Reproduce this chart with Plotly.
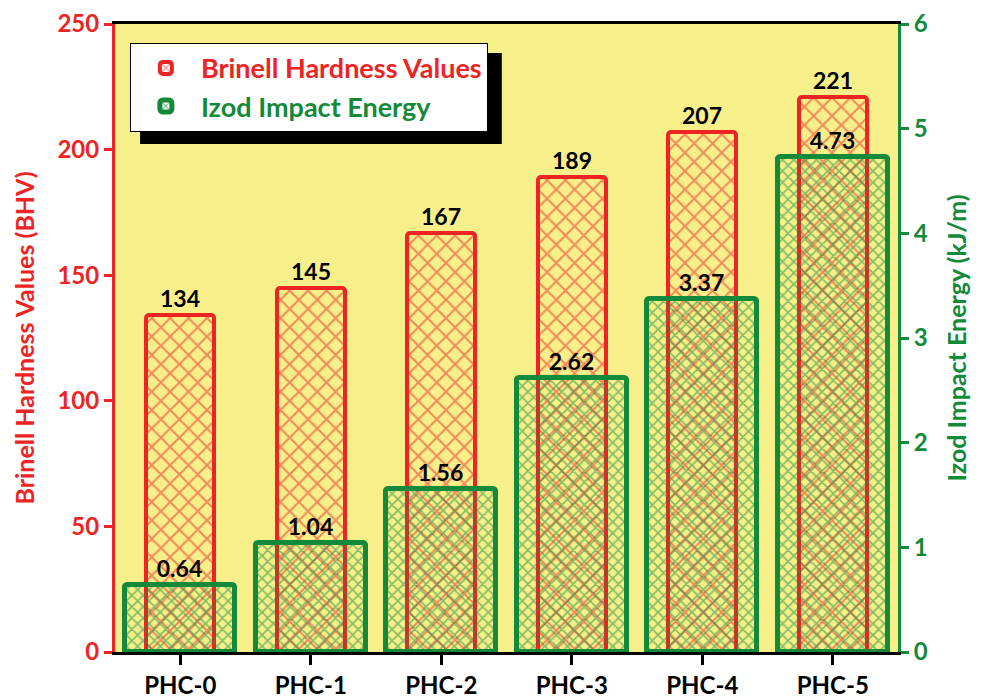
import plotly.graph_objects as go

categories = ["PHC-0", "PHC-1", "PHC-2", "PHC-3", "PHC-4", "PHC-5"]
hardness = [134, 145, 167, 189, 207, 221]
impact = [0.64, 1.04, 1.56, 2.62, 3.37, 4.73]

RED = "#EE2424"
GREEN = "#138A3A"
FONT = "Lato"

fig = go.Figure()
fig.add_trace(go.Bar(
    x=categories, y=hardness, name="<span style='color:%s'>Brinell Hardness Values</span>" % RED,
    width=0.52, yaxis="y",
    marker=dict(color="rgba(0,0,0,0)", line=dict(color=RED, width=4), cornerradius=3,
                pattern=dict(shape="x", fgcolor=RED, bgcolor="rgba(0,0,0,0)", size=13, solidity=0.28, fillmode="overlay")),
    text=[str(v) for v in hardness], textposition="outside",
    textfont=dict(family=FONT, size=23, color="black", weight="bold"), cliponaxis=False,
))
fig.add_trace(go.Bar(
    x=categories, y=impact, name="<span style='color:%s'>Izod Impact Energy</span>" % GREEN,
    width=0.84, yaxis="y2",
    marker=dict(color="rgba(0,0,0,0)", line=dict(color=GREEN, width=5), cornerradius=3,
                pattern=dict(shape="x", fgcolor=GREEN, bgcolor="rgba(0,0,0,0)", size=8, solidity=0.38, fillmode="overlay")),
    text=["%.2f" % v for v in impact], textposition="outside",
    textfont=dict(family=FONT, size=23, color="black", weight="bold"), cliponaxis=False,
))

fig.update_layout(
    width=982, height=697,
    margin=dict(l=107, r=92, t=16, b=53, autoexpand=False),
    paper_bgcolor="white", plot_bgcolor="#F6EF8A",
    barmode="overlay", bargap=0,
    font=dict(family=FONT, weight="bold"),
    xaxis=dict(showline=True, linecolor="black", linewidth=3, mirror=True, automargin=False,
               ticks="outside", tickcolor="black", tickwidth=3, ticklen=10,
               tickfont=dict(family=FONT, size=24, color="black", weight="bold"), showgrid=False),
    yaxis=dict(range=[0, 250], dtick=50, showline=True, linecolor=RED, linewidth=3, automargin=False,
               ticks="outside", tickcolor=RED, tickwidth=3, ticklen=8, showgrid=False, zeroline=False,
               tickfont=dict(family=FONT, size=24, color=RED, weight="bold"),
               title=dict(text="Brinell Hardness Values (BHV)", font=dict(family=FONT, size=25, color=RED, weight="bold"), standoff=16)),
    yaxis2=dict(range=[0, 6], dtick=1, overlaying="y", side="right", showline=True, linecolor=GREEN, linewidth=3, automargin=False,
                ticks="outside", tickcolor=GREEN, tickwidth=3, ticklen=8, showgrid=False, zeroline=False,
                tickfont=dict(family=FONT, size=24, color=GREEN, weight="bold"),
                title=dict(text="Izod Impact Energy (kJ/m)", font=dict(family=FONT, size=25, color=GREEN, weight="bold"), standoff=22)),
    legend=dict(x=0.019, y=0.97, xanchor="left", yanchor="top", bgcolor="white", bordercolor="black", borderwidth=1,
                font=dict(family=FONT, size=27, weight="bold"), itemwidth=60, tracegroupgap=0),
    shapes=[dict(type="rect", xref="paper", yref="paper", x0=0.032, x1=0.494, y0=0.809, y1=0.954,
                 fillcolor="black", line=dict(width=0), layer="below")],
)

fig.write_html("out.html")
